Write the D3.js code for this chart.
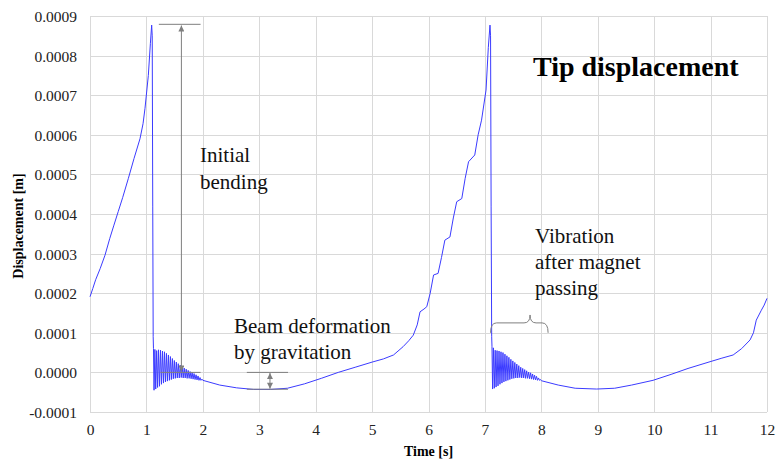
<!DOCTYPE html>
<html>
<head>
<meta charset="utf-8">
<script src="https://cdn.jsdelivr.net/npm/d3@7"></script>
<style>
	body { margin: 0; background: #fff; }
	svg { display: block; font-family: "Liberation Serif", "Times New Roman", serif; }
	.tick text { font-size: 15.5px; fill: #222; }
	.grid line { stroke: #d9d9d9; stroke-width: 1; }
	.note { font-size: 21px; fill: #111; }
</style>
</head>
<body>
<svg id="chart-1" width="778" height="463"></svg>
<script>
// Axis ticks
const xTicks = [0,1,2,3,4,5,6,7,8,9,10,11,12];
const yTicks = [-0.0001,0,0.0001,0.0002,0.0003,0.0004,0.0005,0.0006,0.0007,0.0008,0.0009];
const yTickLabels = ['-0.0001','0.0000','0.0001','0.0002','0.0003','0.0004','0.0005','0.0006','0.0007','0.0008','0.0009'];

// Tip displacement [m] vs time [s].
// Magnet approach (bending up) during the first period
const rise1 = [
	[0,0.000191],[0.05,0.000212],[0.10,0.000234],[0.18,0.000262],[0.266,0.000296],
	[0.35,0.000338],[0.42,0.000370],[0.50,0.000406],[0.58,0.000442],[0.68,0.000490],
	[0.78,0.000540],[0.886,0.000590],[0.94,0.000628],[0.975,0.000667],[1.034,0.000750],
	[1.07,0.000830],[1.093,0.000877],[1.103,0.000850],[1.112,0.000420],[1.12,0.000090]
];
// Free vibration after the magnet has passed (first period)
const osc1 = [
	[1.125,0.000060],[1.135,-0.000045],[1.150,0.000058],[1.165,-0.000042],[1.182,0.000055],
	[1.198,-0.000038],[1.215,0.000057],[1.232,-0.000035],[1.250,0.000056],[1.267,-0.000030],
	[1.285,0.000054],[1.302,-0.000027],[1.320,0.000052],[1.337,-0.000024],[1.355,0.000048],
	[1.372,-0.000022],[1.390,0.000044],[1.407,-0.000020],[1.425,0.000040],[1.442,-0.000018],
	[1.460,0.000035],[1.477,-0.000016],[1.495,0.000030],[1.512,-0.000015],[1.530,0.000026],
	[1.547,-0.000014],[1.565,0.000022],[1.582,-0.000014],[1.600,0.000018],[1.617,-0.000013],
	[1.635,0.000014],[1.652,-0.000014],[1.670,0.000011],[1.687,-0.000014],[1.705,0.000008],
	[1.722,-0.000015],[1.740,0.000005],[1.757,-0.000015],[1.775,0.000002],[1.792,-0.000016],
	[1.810,0.000000],[1.827,-0.000017],[1.845,-0.000003],[1.862,-0.000018],[1.880,-0.000006],
	[1.897,-0.000019],[1.915,-0.000009],[1.932,-0.000020],[1.950,-0.000013],[1.967,-0.000020],
	[1.985,-0.000017],[2.000,-0.000020]
];
// Gravity sag and next magnet approach
const sag1 = [
	[2.3,-0.000032],[2.6,-0.000039],[2.9,-0.000043],[3.2,-0.000043],[3.5,-0.000040],
	[3.8,-0.000029],[4.1,-0.000015],[4.4,0.000000],[4.7,0.000013],[5.0,0.000026],
	[5.2,0.000034],[5.38,0.000044],[5.55,0.000065],[5.65,0.000080],[5.73,0.000094],
	[5.80,0.000120],[5.85,0.000153],[5.92,0.000160],[5.97,0.000166],[6.03,0.000200],
	[6.09,0.000246],[6.17,0.000250],[6.23,0.000290],[6.29,0.000334],[6.38,0.000342],
	[6.44,0.000390],[6.50,0.000431],[6.59,0.000439],[6.65,0.000490],[6.71,0.000532],
	[6.82,0.000549],[6.88,0.000600],[6.94,0.000637],[7.02,0.000713],[7.06,0.000820],
	[7.09,0.000877],[7.10,0.000850],[7.11,0.000420],[7.12,0.000090]
];
// Free vibration (second period)
const osc2 = [
	[7.125,0.000066],[7.136,-0.000042],[7.150,0.000062],[7.166,-0.000040],[7.182,0.000056],
	[7.198,-0.000037],[7.215,0.000055],[7.232,-0.000034],[7.250,0.000054],[7.267,-0.000030],
	[7.285,0.000052],[7.302,-0.000027],[7.320,0.000050],[7.337,-0.000024],[7.355,0.000046],
	[7.372,-0.000022],[7.390,0.000042],[7.407,-0.000020],[7.425,0.000038],[7.442,-0.000018],
	[7.460,0.000033],[7.477,-0.000016],[7.495,0.000029],[7.512,-0.000015],[7.530,0.000025],
	[7.547,-0.000014],[7.565,0.000021],[7.582,-0.000014],[7.600,0.000017],[7.617,-0.000013],
	[7.635,0.000013],[7.652,-0.000014],[7.670,0.000010],[7.687,-0.000014],[7.705,0.000007],
	[7.722,-0.000015],[7.740,0.000004],[7.757,-0.000015],[7.775,0.000001],[7.792,-0.000016],
	[7.810,-0.000001],[7.827,-0.000017],[7.845,-0.000004],[7.862,-0.000018],[7.880,-0.000007],
	[7.897,-0.000019],[7.915,-0.000010],[7.932,-0.000020],[7.950,-0.000014],[7.967,-0.000020],
	[7.985,-0.000018],[8.000,-0.000021]
];
const sag2 = [
	[8.3,-0.000032],[8.6,-0.000040],[8.98,-0.000042],[9.3,-0.000040],[9.6,-0.000032],
	[9.98,-0.000020],[10.3,-0.000005],[10.6,0.000010],[10.99,0.000027],[11.2,0.000036],
	[11.4,0.000044],[11.55,0.000060],[11.7,0.000082],[11.76,0.000100],[11.81,0.000132],
	[11.9,0.000157],[11.95,0.000170],[12.0,0.000187]
];
const series = [].concat(rise1, osc1, sag1, osc2, sag2);

const svg = d3.select('svg#chart-1');
const x = d3.scaleLinear().domain([0,12]).range([90,767]);
const y = d3.scaleLinear().domain([-0.0001,0.0009]).range([412,16]);

// gridlines
const grid = svg.append('g').attr('class','grid');
grid.selectAll('line.v').data(xTicks).enter().append('line')
	.attr('x1',d=>Math.round(x(d))+0.5).attr('x2',d=>Math.round(x(d))+0.5)
	.attr('y1',y(0.0009)).attr('y2',y(-0.0001));
grid.selectAll('line.h').data(yTicks).enter().append('line')
	.attr('x1',x(0)).attr('x2',x(12))
	.attr('y1',d=>Math.round(y(d))+0.5).attr('y2',d=>Math.round(y(d))+0.5)
	.attr('stroke', d => d===0 ? '#bfbfbf' : null);

// axes (labels only)
const yAxis = d3.axisLeft(y).tickValues(yTicks).tickSize(0).tickPadding(13)
	.tickFormat((d,i) => yTickLabels[i]);
svg.append('g').attr('transform',`translate(${x(0)},0)`).call(yAxis)
	.call(g => g.select('.domain').remove())
	.selectAll('text').attr('font-family','Liberation Serif').attr('dy','0.35em');

const xAxis = d3.axisBottom(x).tickValues(xTicks).tickSize(0).tickPadding(12).tickFormat(d3.format('d'));
svg.append('g').attr('transform',`translate(0,${y(-0.0001)})`).call(xAxis)
	.call(g => g.select('.domain').remove())
	.selectAll('text').attr('font-family','Liberation Serif');

// axis titles
svg.append('text').attr('x',(x(0)+x(12))/2).attr('y',456).attr('text-anchor','middle')
	.attr('font-weight','bold').attr('font-size','14px').text('Time [s]');
svg.append('text').attr('transform','translate(23,226) rotate(-90)').attr('text-anchor','middle')
	.attr('font-weight','bold').attr('font-size','14px').text('Displacement [m]');

// data line
const line = d3.line().x(d=>x(d[0])).y(d=>y(d[1]));
svg.append('path').datum(series)
	.attr('fill','none').attr('stroke','#3b3bff').attr('stroke-width',1)
	.attr('d',line);

// annotations
const defs = svg.append('defs');
defs.append('marker').attr('id','head').attr('viewBox','0 0 10 10')
	.attr('refX',10).attr('refY',5).attr('markerWidth',7).attr('markerHeight',6)
	.attr('markerUnits','userSpaceOnUse').attr('orient','auto-start-reverse')
	.append('path').attr('d','M0,0L10,5L0,10Z').attr('fill','#7f7f7f');

const ann = svg.append('g').attr('stroke','#7f7f7f').attr('stroke-width',1).attr('fill','none');
// initial bending
ann.append('line').attr('x1',x(1.22)).attr('x2',x(1.96)).attr('y1',y(0.000879)).attr('y2',y(0.000879));
ann.append('line').attr('x1',x(1.62)).attr('x2',x(1.62)).attr('y1',y(0.000002)).attr('y2',y(0.000876))
	.attr('marker-start','url(#head)').attr('marker-end','url(#head)');
ann.append('line').attr('x1',x(1.25)).attr('x2',x(1.96)).attr('y1',y(0)).attr('y2',y(0));
// gravity sag
ann.append('line').attr('x1',x(2.78)).attr('x2',x(3.51)).attr('y1',y(0)).attr('y2',y(0));
ann.append('line').attr('x1',x(2.78)).attr('x2',x(3.51)).attr('y1',y(-0.0000425)).attr('y2',y(-0.0000425));
ann.append('line').attr('x1',x(3.19)).attr('x2',x(3.19)).attr('y1',y(-0.0000015)).attr('y2',y(-0.000041))
	.attr('marker-start','url(#head)').attr('marker-end','url(#head)');
// brace
const bx0 = x(7.1), bx1 = x(8.12), bm = x(7.8);
const by0 = y(0.0001), by1 = y(0.000125), byt = y(0.000145);
ann.append('path').attr('d',
	`M${bx0},${by0} Q${bx0},${by1} ${bx0+6},${by1} L${bm-6},${by1} Q${bm},${by1} ${bm},${byt}` +
	` Q${bm},${by1} ${bm+6},${by1} L${bx1-6},${by1} Q${bx1},${by1} ${bx1},${by0}`);

// texts
const notes = [
	{x:200, y:162, t:'Initial'}, {x:200, y:189, t:'bending'},
	{x:234, y:333, t:'Beam deformation'}, {x:234, y:359, t:'by gravitation'},
	{x:535, y:243, t:'Vibration'}, {x:535, y:269, t:'after magnet'}, {x:535, y:295, t:'passing'}
];
svg.selectAll('text.note').data(notes).enter().append('text')
	.attr('class','note').attr('x',d=>d.x).attr('y',d=>d.y).text(d=>d.t);

svg.append('text').attr('x',533).attr('y',76).attr('font-weight','bold').attr('font-size','28px')
	.text('Tip displacement');
</script>
</body>
</html>
